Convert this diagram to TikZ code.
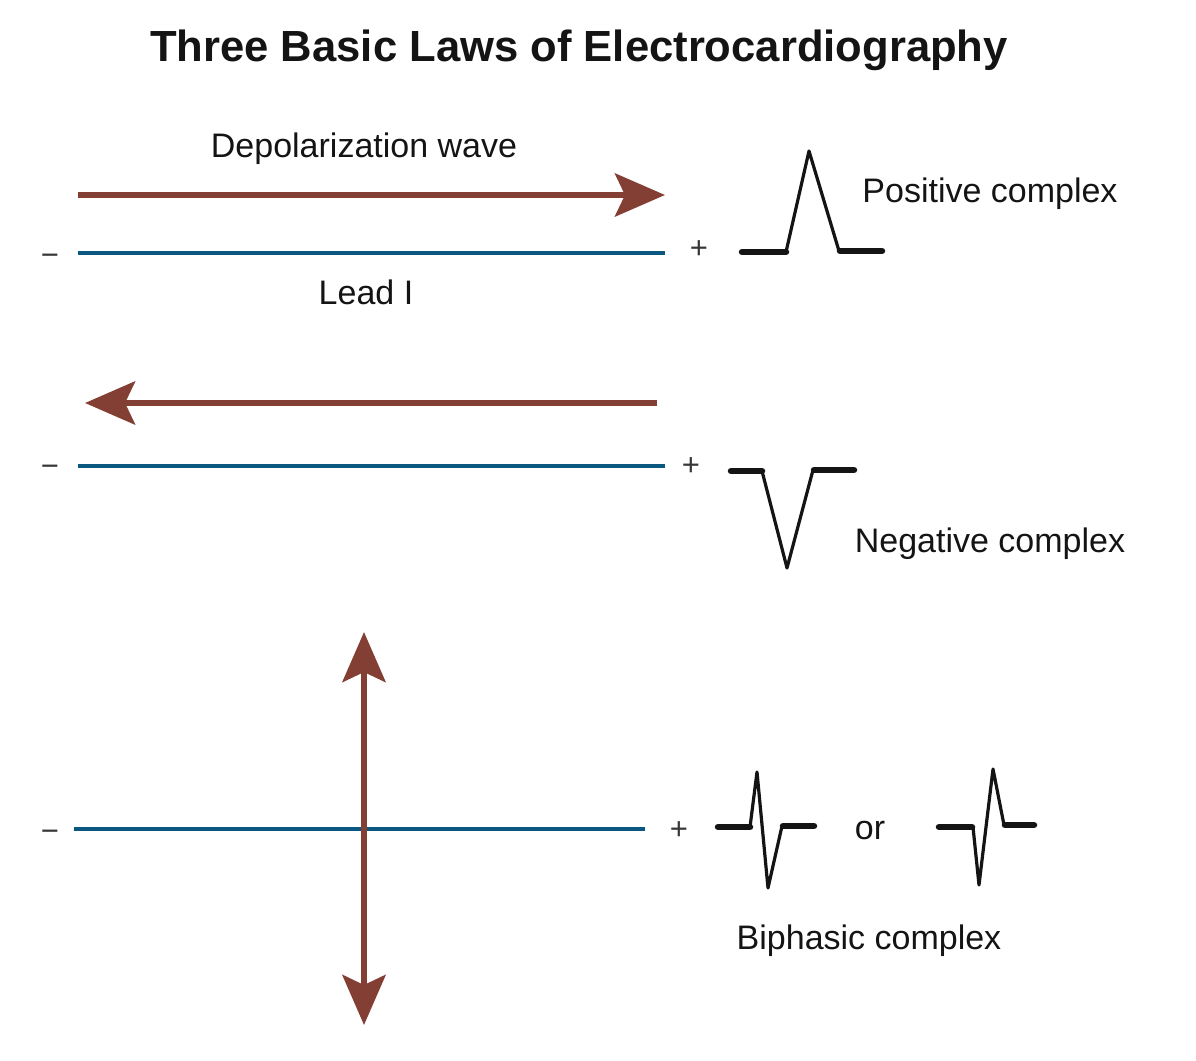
\documentclass[tikz,border=0pt]{standalone}
\usepackage{fontspec}
\setmainfont{Liberation Sans}
\usetikzlibrary{arrows.meta}
\definecolor{wave}{RGB}{131,63,51}
\definecolor{leadc}{RGB}{10,88,128}
\definecolor{ink}{RGB}{20,20,20}
\newcommand{\mysignminus}{\symbol{"2212}}
\begin{document}
\begin{tikzpicture}[x=1pt,y=-1pt,
 lbl/.style={font=\fontsize{34}{40}\selectfont, text=ink, inner sep=0pt, anchor=base},
 ttl/.style={font=\fontsize{43.6}{50}\selectfont\bfseries, text=ink, inner sep=0pt, anchor=base},
 sign/.style={font=\fontsize{31}{38}\selectfont, text=ink!85, inner sep=0pt},
 leadline/.style={draw=leadc, line width=4.5pt},
 wavearrow/.style={draw=wave, line width=6.5pt, -{Stealth[length=50pt,width=43pt,inset=10pt]}},
 wavearrow2/.style={draw=wave, line width=6.5pt, {Stealth[length=50pt,width=43pt,inset=10pt]}-{Stealth[length=50pt,width=43pt,inset=10pt]}},
 basel/.style={draw=ink, line width=6.5pt, line cap=round},
 spike/.style={draw=ink, line width=3.2pt, line join=round, line cap=round},
]
\useasboundingbox (0,0) rectangle (1196,1060);

% title
\node[ttl] (title) at (579,61) {Three Basic Laws of Electrocardiography};

% ---------- row 1 ----------
\coordinate (a1s) at (78,195);
\coordinate (a1e) at (665,195);
\draw[wavearrow] (a1s) -- (a1e);
\node[lbl] (depol) at (364,157) {Depolarization wave};
\coordinate (l1s) at (78,253);
\coordinate (l1e) at (665,253);
\draw[leadline] (l1s) -- (l1e);
\node[sign] (m1) at (50,260) {\mysignminus};
\node[sign] (p1) at (699,250) {+};
\node[lbl] (leadI) at (366,304) {Lead I};
% positive complex
\draw[basel] (742,252) -- (786,252);
\draw[basel] (840,251) -- (882,251);
\draw[spike] (786,252) -- (809,151) -- (839,251);
\node[lbl] (pos) at (990,202) {Positive complex};

% ---------- row 2 ----------
\coordinate (a2s) at (657,403);
\coordinate (a2e) at (85,403);
\draw[wavearrow] (a2s) -- (a2e);
\coordinate (l2s) at (78,466);
\coordinate (l2e) at (665,466);
\draw[leadline] (l2s) -- (l2e);
\node[sign] (m2) at (50,471) {\mysignminus};
\node[sign] (p2) at (691,467) {+};
% negative complex
\draw[basel] (731,471) -- (762,471);
\draw[basel] (814,470) -- (854,470);
\draw[spike] (762,471) -- (787,568) -- (813,470);
\node[lbl] (neg) at (990,552) {Negative complex};

% ---------- row 3 ----------
\coordinate (l3s) at (74,829);
\coordinate (l3e) at (645,829);
\draw[leadline] (l3s) -- (l3e);
\coordinate (a3s) at (364,1025);
\coordinate (a3e) at (364,632);
\draw[wavearrow2] (a3s) -- (a3e);
\node[sign] (m3) at (50,836) {\mysignminus};
\node[sign] (p3) at (679,831) {+};
% biphasic 1
\draw[basel] (718,827) -- (750,827);
\draw[basel] (783,826) -- (814,826);
\draw[spike] (750,827) -- (757,772) -- (768,888) -- (782,826);
\node[lbl] (or) at (870,839) {or};
% biphasic 2
\draw[basel] (939,827) -- (972,827);
\draw[basel] (1005,825) -- (1034,825);
\draw[spike] (973,827) -- (979,885) -- (993,769) -- (1004,825);
\node[lbl] (bi) at (869,949) {Biphasic complex};
\end{tikzpicture}
\end{document}
